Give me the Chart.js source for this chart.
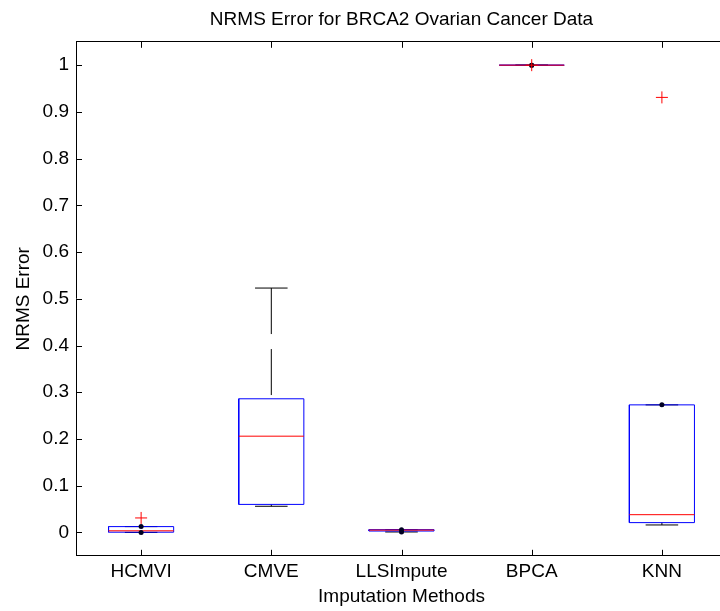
<!DOCTYPE html>
<html lang="en">
<head>
<meta charset="UTF-8" />
<title>NRMS Error for BRCA2 Ovarian Cancer Data</title>
<script src="https://cdn.jsdelivr.net/npm/chart.js@4.4.1/dist/chart.umd.min.js"></script>
<style>
  html, body { margin: 0; padding: 0; background: #fff; overflow: hidden; }
  #boxChart { display: block; }
</style>
</head>
<body>
<!-- the plot box runs slightly past the right edge of the window -->
<canvas id="boxChart" width="734" height="611"></canvas>
<script>
// imputation methods along the x axis
const methods = ['HCMVI', 'CMVE', 'LLSImpute', 'BPCA', 'KNN'];

// box statistics for each method
const lowerWhisker  = [0.000, 0.056, 0.001, 1.000, 0.016];
const lowerQuartile = [0.0005, 0.060, 0.003, 1.000, 0.021];
const medians       = [0.0035, 0.206, 0.005, 1.000, 0.038];
const upperQuartile = [0.0125, 0.286, 0.006, 1.000, 0.273];
const upperWhisker  = [0.0125, 0.523, 0.006, 1.000, 0.273];

// outliers: position on the x axis (1-based) and value
const outlierPos = [1, 4, 5];
const outlierVal = [0.031, 1.000, 0.931];

// y axis ticks
const yTicks = [0, 0.1, 0.2, 0.3, 0.4, 0.5, 0.6, 0.7, 0.8, 0.9, 1];
const yTickLabels = ['0', '0.1', '0.2', '0.3', '0.4', '0.5', '0.6', '0.7', '0.8', '0.9', '1'];

const BOX_HALF = 0.25;   // half box width in x units
const CAP_HALF = 0.125;  // half whisker cap width
const TICK_LEN = 6;      // inward tick marks, px

const font = { family: "'Liberation Sans', Arial, sans-serif", size: 19, weight: 'normal' };

// null y breaks a polyline
function gap(x) { return { x: x, y: null }; }

const boxPts = [], medPts = [], whiskPts = [], capPts = [], endDots = [];
methods.forEach((m, i) => {
  const c = i + 1;
  const l = c - BOX_HALF, r = c + BOX_HALF;
  boxPts.push({ x: l, y: lowerQuartile[i] }, { x: r, y: lowerQuartile[i] },
              { x: r, y: upperQuartile[i] }, { x: l, y: upperQuartile[i] },
              { x: l, y: lowerQuartile[i] }, gap(c));
  medPts.push({ x: l, y: medians[i] }, { x: r, y: medians[i] }, gap(c));
  whiskPts.push({ x: c, y: upperWhisker[i] }, { x: c, y: upperQuartile[i] }, gap(c));
  whiskPts.push({ x: c, y: lowerQuartile[i] }, { x: c, y: lowerWhisker[i] }, gap(c));
  capPts.push({ x: c - CAP_HALF, y: upperWhisker[i] }, { x: c + CAP_HALF, y: upperWhisker[i] }, gap(c));
  capPts.push({ x: c - CAP_HALF, y: lowerWhisker[i] }, { x: c + CAP_HALF, y: lowerWhisker[i] }, gap(c));
  // very short whiskers show up as a dot
  if (upperWhisker[i] - upperQuartile[i] < 0.003) endDots.push({ x: c, y: upperWhisker[i] });
  if (lowerQuartile[i] - lowerWhisker[i] < 0.003) endDots.push({ x: c, y: lowerWhisker[i] });
});

const outlierPts = outlierPos.map((p, i) => ({ x: p, y: outlierVal[i] }));

const lineBase = { type: 'line', pointRadius: 0, spanGaps: false, fill: false, tension: 0, borderWidth: 1 };

const methodTicks = axis => { axis.ticks = methods.map((m, i) => ({ value: i + 1 })); };

// tick marks pointing into the plot, on all sides of the box
const innerTicks = {
  id: 'innerTicks',
  afterDraw(chart) {
    const { ctx, chartArea: a, scales: { x, y } } = chart;
    ctx.save();
    ctx.strokeStyle = '#000';
    ctx.lineWidth = 1;
    ctx.beginPath();
    x.ticks.forEach(t => {
      const px = Math.round(x.getPixelForValue(t.value)) + 0.5;
      ctx.moveTo(px, a.bottom); ctx.lineTo(px, a.bottom - TICK_LEN);
      ctx.moveTo(px, a.top); ctx.lineTo(px, a.top + TICK_LEN);
    });
    y.ticks.forEach(t => {
      const py = Math.round(y.getPixelForValue(t.value)) + 0.5;
      ctx.moveTo(a.left, py); ctx.lineTo(a.left + TICK_LEN, py);
      ctx.moveTo(a.right, py); ctx.lineTo(a.right - TICK_LEN, py);
    });
    ctx.stroke();
    ctx.restore();
  }
};

new Chart(document.getElementById('boxChart'), {
  type: 'line',
  data: {
    datasets: [
      Object.assign({}, lineBase, { label: 'whiskers', data: whiskPts, borderColor: '#000', borderDash: [46, 15], order: 5 }),
      Object.assign({}, lineBase, { label: 'caps', data: capPts, borderColor: '#000', order: 4 }),
      Object.assign({}, lineBase, { label: 'boxes', data: boxPts, borderColor: '#0000ff', order: 3 }),
      Object.assign({}, lineBase, { label: 'medians', data: medPts, borderColor: '#ff0000', order: 2 }),
      { type: 'scatter', label: 'ends', data: endDots, pointRadius: 2.5, pointBackgroundColor: '#000022',
        pointBorderColor: '#000022', pointBorderWidth: 0, order: 1 },
      { type: 'scatter', label: 'outliers', data: outlierPts, pointStyle: 'cross', pointRadius: 6,
        pointBorderColor: '#ff0000', pointBorderWidth: 1, order: 0 }
    ]
  },
  plugins: [innerTicks],
  options: {
    responsive: false,
    animation: false,
    layout: { padding: { left: 0, right: 1, top: 0, bottom: 0 } },
    plugins: {
      legend: { display: false },
      tooltip: { enabled: false },
      title: {
        display: true,
        text: 'NRMS Error for BRCA2 Ovarian Cancer Data',
        color: '#000',
        font: font,
        fullSize: false,
        padding: { top: 8, bottom: 11 }
      }
    },
    scales: {
      x: {
        type: 'linear', position: 'bottom', min: 0.5, max: 5.5,
        afterBuildTicks: methodTicks,
        ticks: { callback: v => methods[v - 1], color: '#000', font: font, padding: 5, maxRotation: 0, autoSkip: false },
        grid: { drawOnChartArea: false, drawTicks: false },
        border: { color: '#000', width: 1 },
        title: { display: true, text: 'Imputation Methods', color: '#000', font: font, padding: { top: -3, bottom: 2.6 } }
      },
      xTop: {
        type: 'linear', position: 'top', min: 0.5, max: 5.5,
        afterBuildTicks: methodTicks,
        ticks: { display: false },
        grid: { drawOnChartArea: false, drawTicks: false },
        border: { color: '#000', width: 1 }
      },
      y: {
        type: 'linear', position: 'left', min: -0.05, max: 1.05,
        afterBuildTicks: axis => { axis.ticks = yTicks.map(v => ({ value: v })); },
        ticks: { callback: (v, i) => yTickLabels[i], color: '#000', font: font, padding: 7, autoSkip: false },
        grid: { drawOnChartArea: false, drawTicks: false },
        border: { color: '#000', width: 1 },
        title: { display: true, text: 'NRMS Error', color: '#000', font: font, padding: { top: 12, bottom: 0.8 } }
      }
    }
  }
});
</script>
</body>
</html>
